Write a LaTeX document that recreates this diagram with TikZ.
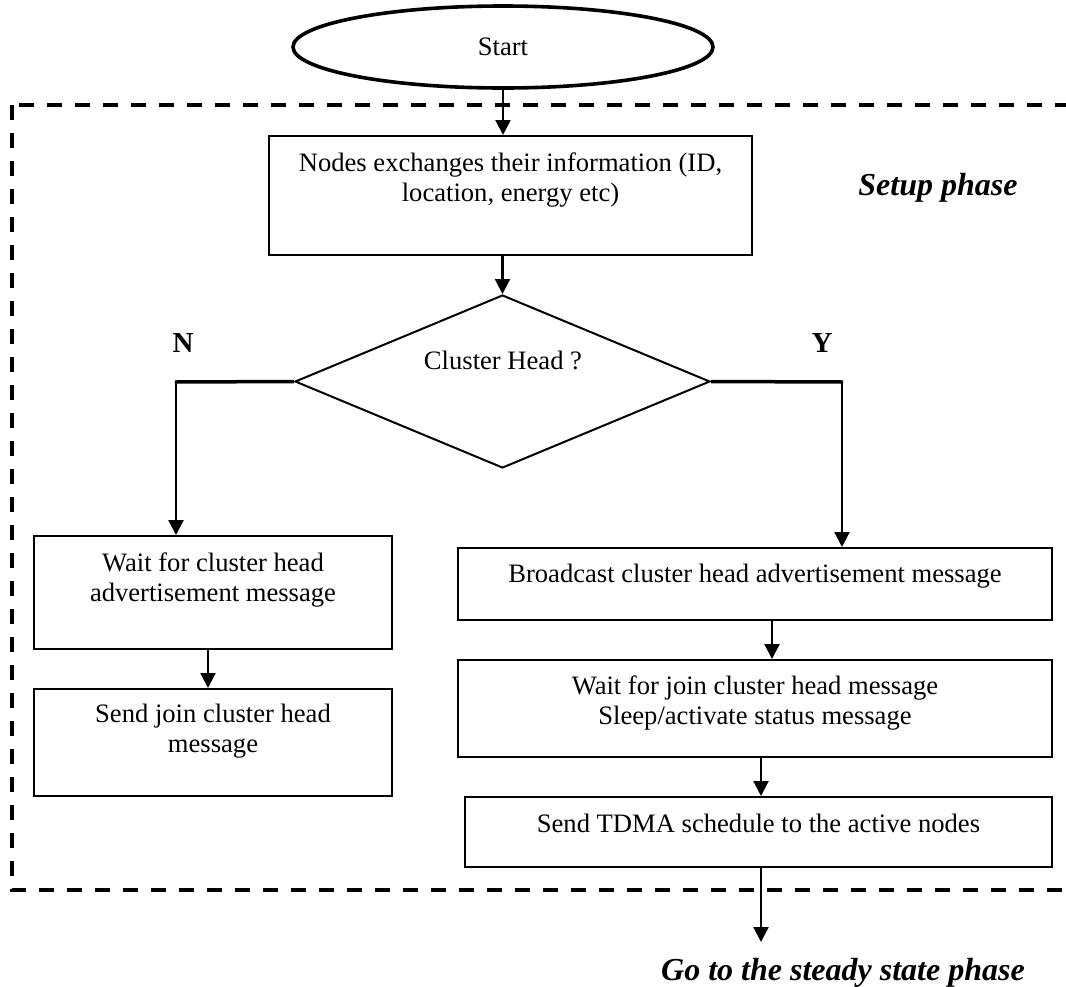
\documentclass[tikz,border=0pt]{standalone}
\usepackage{fontspec}
\setmainfont{Liberation Serif}
\usetikzlibrary{shapes.geometric,arrows.meta}
\begin{document}
\begin{tikzpicture}[x=1pt,y=-1pt,
  box/.style={draw, line width=2pt, inner sep=0pt, rectangle},
  txt/.style={inner sep=0pt, align=center, font=\fontsize{26.6}{30}\selectfont},
  arr/.style={line width=2.2pt, -{Triangle[length=15pt,width=15pt]}},
  branch/.style={line width=3.5pt},
  lbl/.style={inner sep=0pt, font=\fontsize{32}{36}\selectfont\bfseries\itshape, anchor=base},
  yn/.style={inner sep=0pt, font=\fontsize{29}{32}\selectfont\bfseries, anchor=base},
  dashframe/.style={line width=3.5pt, dash pattern=on 15pt off 13pt}
]
\useasboundingbox (0,0) rectangle (1066,986);
\begin{scope}
  \clip (0,0) rectangle (1066,986);
  \draw[dashframe] (12,105) rectangle (1100,890);
\end{scope}

% nodes
\node[ellipse, draw, line width=3.6pt, minimum width=420pt, minimum height=82pt, inner sep=0pt, font=\fontsize{26.6}{30}\selectfont] (start) at (503,47) {Start};

\node[box, minimum width=483pt, minimum height=119pt] (b1) at (510.5,195.5) {};
\node[txt, anchor=north] (b1t) at ([yshift=-17.5pt]b1.north) {Nodes exchanges their information (ID,\\location, energy etc)};

\node[diamond, draw, line width=2pt, minimum width=415pt, minimum height=173pt, inner sep=0pt] (dia) at (502.5,381.5) {};
\node[txt, anchor=base] (diat) at (503,369) {Cluster Head ?};

\node[box, minimum width=358pt, minimum height=113pt] (a) at (213,592.5) {};
\node[txt, anchor=north] (at) at ([yshift=-17.5pt]a.north) {Wait for cluster head\\advertisement message};

\node[box, minimum width=358pt, minimum height=107pt] (b) at (213,742.5) {};
\node[txt, anchor=north] (bt) at ([yshift=-16pt]b.north) {Send join cluster head\\message};

\node[box, minimum width=594pt, minimum height=72pt] (bc) at (755,584) {};
\node[txt, anchor=north] (bct) at ([yshift=-17pt]bc.north) {Broadcast cluster head advertisement message};

\node[box, minimum width=594pt, minimum height=97pt] (w) at (755,708.5) {};
\node[txt, anchor=north] (wt) at ([yshift=-17pt]w.north) {Wait for join cluster head message\\Sleep/activate status message};

\node[box, minimum width=587pt, minimum height=70pt] (t) at (758.5,832) {};
\node[txt, anchor=north] (tt) at ([yshift=-18pt]t.north) {Send TDMA schedule to the active nodes};

% labels
\node[yn] (nlab) at (183,352) {N};
\node[yn] (ylab) at (822,352) {Y};
\node[lbl] (setup) at (938,195) {Setup phase};
\node[lbl] (go) at (843,980) {Go to the steady state phase};

% connectors
\coordinate (nl) at (176,382);
\coordinate (yr) at (842,382);
\coordinate (goend) at (761,942);

\draw[arr] (start.south) -- (start.south |- b1.north);
\draw[arr] (dia.north |- b1.south) -- (dia.north);
\draw[branch] (dia.west) -- ([xshift=-1.1pt]nl);
\draw[arr] (nl) -- (nl |- a.north);
\draw[branch] (dia.east) -- ([xshift=1.1pt]yr);
\draw[arr] (yr) -- (yr |- bc.north);
\draw[arr] ([xshift=-5pt]a.south) -- ([xshift=-5pt]b.north);
\draw[arr] ([xshift=17pt]bc.south) -- ([xshift=17pt]w.north);
\draw[arr] ([xshift=6pt]w.south) -- ([xshift=6pt]w.south |- t.north);
\draw[arr] (goend |- t.south) -- (goend);
\end{tikzpicture}
\end{document}
